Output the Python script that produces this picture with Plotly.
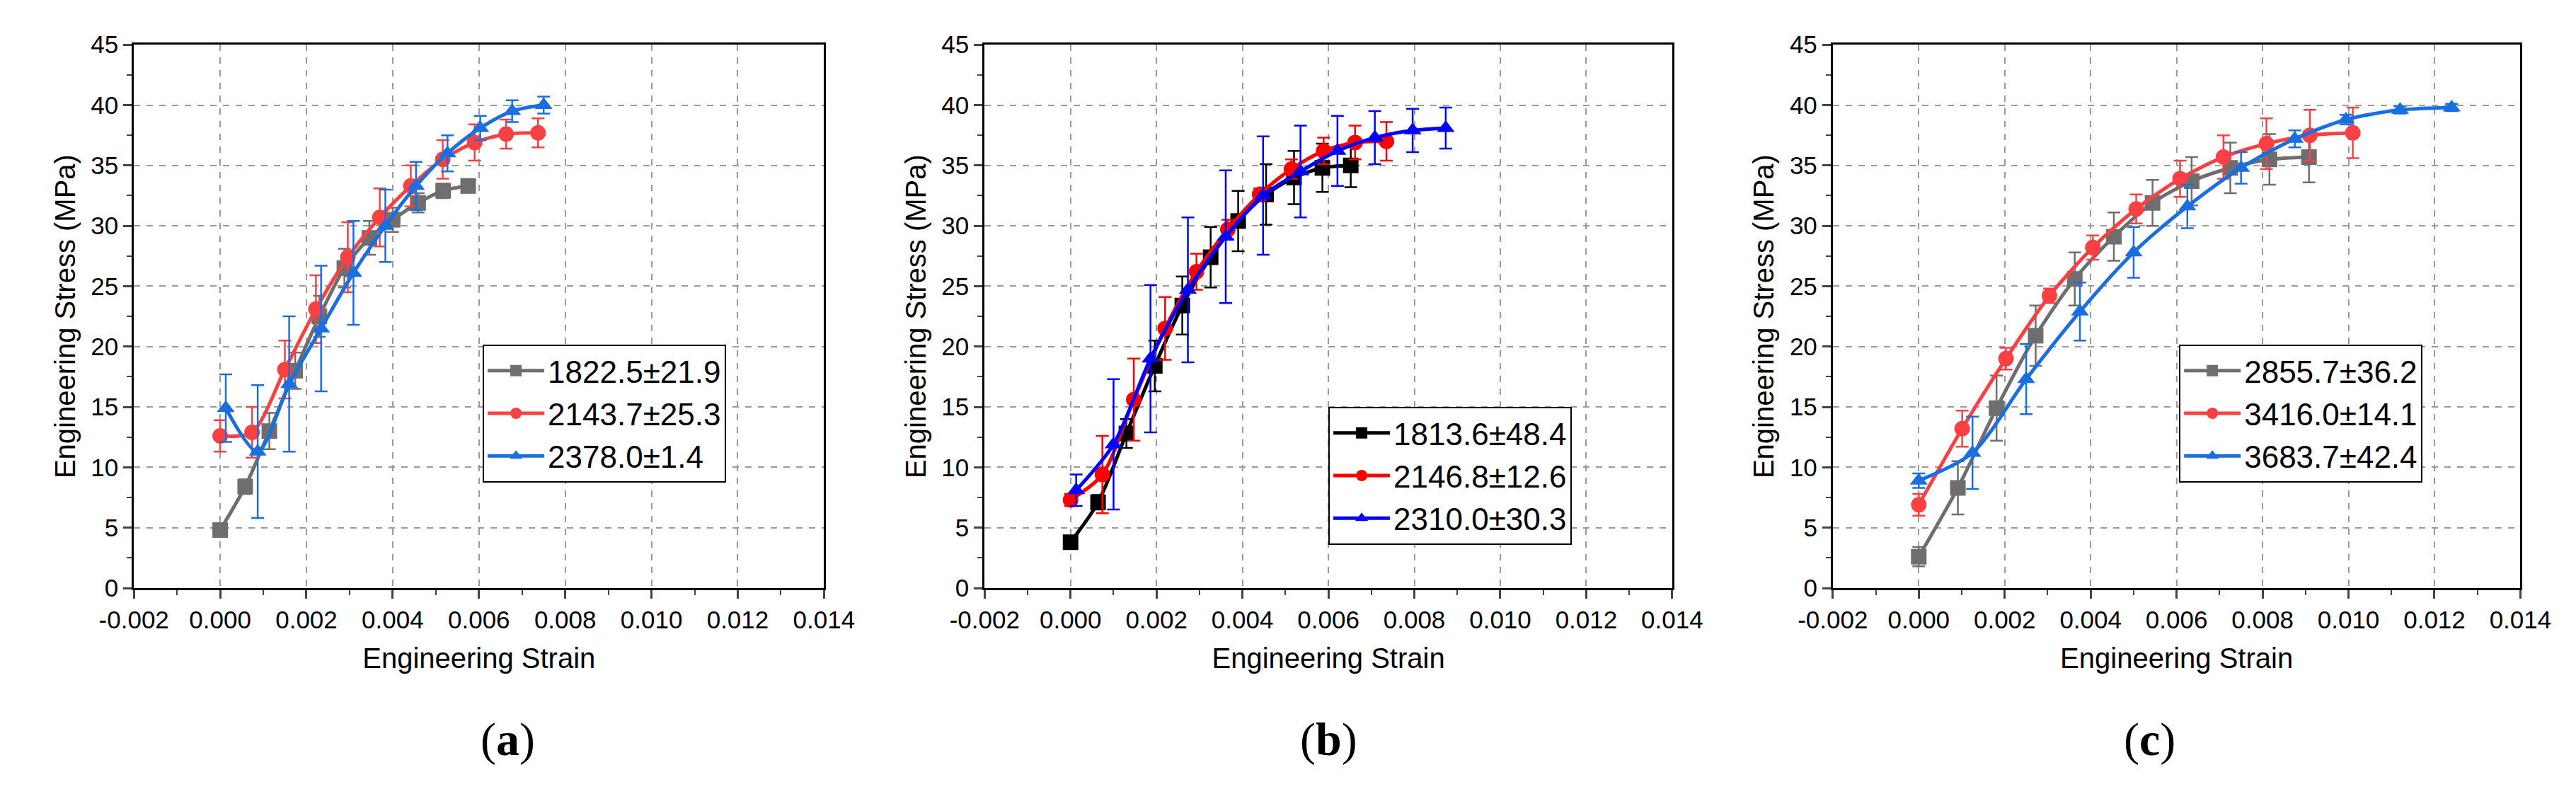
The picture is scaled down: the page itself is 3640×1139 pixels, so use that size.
import plotly.graph_objects as go

# ---------------- data ----------------
# panel (a)
a_gray_x = [0, 0.00058, 0.00114, 0.00174, 0.0023, 0.00288, 0.00346, 0.0040, 0.00459, 0.00517, 0.00575]
a_gray_y = [4.8, 8.4, 13.0, 18.0, 22.5, 26.5, 29.0, 30.5, 31.9, 32.9, 33.3]
a_gray_e = [0.3, 0.6, 1.5, 1.5, 1.7, 1.6, 1.4, 1.0, 0.8, 0.6, 0.5]
a_red_x = [0, 0.00074, 0.0015, 0.00222, 0.00296, 0.0037, 0.00442, 0.00516, 0.0059, 0.00663, 0.00737]
a_red_y = [12.6, 12.9, 18.1, 23.1, 27.4, 30.7, 33.3, 35.5, 36.9, 37.6, 37.7]
a_red_e = [1.3, 2.1, 2.4, 2.8, 2.9, 2.4, 1.7, 1.6, 1.5, 1.2, 1.2]
a_blue_x = [0.00013, 0.00087, 0.0016, 0.00234, 0.00309, 0.00383, 0.00454, 0.00527, 0.00603, 0.00677, 0.0075]
a_blue_y = [14.9, 11.3, 16.9, 21.5, 26.1, 30.0, 33.3, 36.0, 38.1, 39.5, 40.0]
a_blue_e = [2.8, 5.5, 5.6, 5.2, 4.3, 3.0, 2.0, 1.5, 1.0, 0.9, 0.7]
a_names = ["1822.5±21.9", "2143.7±25.3", "2378.0±1.4"]

# panel (b)
b_black_x = [0, 0.00064, 0.0013, 0.00196, 0.0026, 0.00326, 0.0039, 0.00455, 0.0052, 0.00586, 0.00652]
b_black_y = [3.8, 7.1, 12.8, 18.4, 23.4, 27.4, 30.4, 32.6, 34.0, 34.8, 35.0]
b_black_e = [0.3, 0.6, 1.2, 2.1, 2.4, 2.5, 2.5, 2.5, 2.2, 2.0, 1.8]
b_red_x = [0, 0.00074, 0.00147, 0.0022, 0.00293, 0.00366, 0.0044, 0.00514, 0.00589, 0.00662, 0.00735]
b_red_y = [7.3, 9.4, 15.6, 21.5, 26.2, 29.7, 32.6, 34.7, 36.2, 36.9, 37.0]
b_red_e = [0.5, 3.2, 3.4, 2.6, 1.5, 0.8, 0.5, 0.8, 1.1, 1.4, 1.6]
b_blue_x = [0.00013, 0.001, 0.00186, 0.00273, 0.00361, 0.00448, 0.00535, 0.00621, 0.00708, 0.00796, 0.00873]
b_blue_y = [8.1, 11.9, 19.0, 24.7, 29.1, 32.5, 34.5, 36.2, 37.3, 37.9, 38.1]
b_blue_e = [1.3, 5.4, 6.1, 6.0, 5.5, 4.9, 3.8, 2.9, 2.2, 1.8, 1.7]
b_names = ["1813.6±48.4", "2146.8±12.6", "2310.0±30.3"]

# panel (c)
c_gray_x = [0, 0.00091, 0.00181, 0.00272, 0.00363, 0.00454, 0.00544, 0.00635, 0.00725, 0.00816, 0.00908]
c_gray_y = [2.6, 8.3, 14.9, 20.9, 25.6, 29.1, 31.9, 33.7, 34.8, 35.5, 35.7]
c_gray_e = [0.8, 2.2, 2.7, 2.5, 2.2, 2.0, 1.9, 2.0, 2.1, 2.1, 2.1]
c_red_x = [0, 0.00101, 0.00203, 0.00304, 0.00405, 0.00506, 0.00608, 0.00709, 0.00809, 0.0091, 0.0101]
c_red_y = [6.9, 13.2, 19.0, 24.2, 28.2, 31.4, 33.9, 35.7, 36.8, 37.5, 37.7]
c_red_e = [0.9, 1.5, 0.9, 0.6, 1.0, 1.2, 1.5, 1.8, 2.1, 2.1, 2.1]
c_blue_x = [0, 0.00125, 0.0025, 0.00375, 0.005, 0.00625, 0.0075, 0.00875, 0.00994, 0.0112, 0.0124]
c_blue_y = [8.9, 11.2, 17.3, 22.9, 27.8, 31.6, 34.8, 37.2, 38.8, 39.6, 39.8]
c_blue_e = [0.6, 3.0, 2.9, 2.4, 2.1, 1.8, 1.3, 0.7, 0.4, 0.3, 0.3]
c_names = ["2855.7±36.2", "3416.0±14.1", "3683.7±42.4"]

x_ticks = [-0.002, 0.0, 0.002, 0.004, 0.006, 0.008, 0.010, 0.012, 0.014]
x_tick_text = ["-0.002", "0.000", "0.002", "0.004", "0.006", "0.008", "0.010", "0.012", "0.014"]
panel_labels = ["a", "b", "c"]

# ---------------- figure ----------------
GRAY, RED, BLUE = "#6e6e6e", "#f94144", "#1a6fe0"
domains = [(0.037, 0.312), (0.376, 0.650), (0.714, 0.988)]
ydom = (0.27, 0.968)
legend_pos = [(0.176, 0.583), (0.513, 0.503), (0.852, 0.583)]

panels = [
    [(a_gray_x, a_gray_y, a_gray_e, GRAY, "square"), (a_red_x, a_red_y, a_red_e, RED, "circle"),
     (a_blue_x, a_blue_y, a_blue_e, BLUE, "triangle-up"), a_names],
    [(b_black_x, b_black_y, b_black_e, "#000000", "square"), (b_red_x, b_red_y, b_red_e, "#ff0000", "circle"),
     (b_blue_x, b_blue_y, b_blue_e, "#0000ff", "triangle-up"), b_names],
    [(c_gray_x, c_gray_y, c_gray_e, GRAY, "square"), (c_red_x, c_red_y, c_red_e, RED, "circle"),
     (c_blue_x, c_blue_y, c_blue_e, BLUE, "triangle-up"), c_names],
]

fig = go.Figure()
FONT = "Liberation Sans, Arial, sans-serif"
for i, p in enumerate(panels):
    sfx = "" if i == 0 else str(i + 1)
    lg = "legend" if i == 0 else "legend" + str(i + 1)
    names = p[3]
    for (xs, ys, es, col, sym), nm in zip(p[:3], names):
        fig.add_trace(go.Scatter(
            x=xs, y=ys, name=nm, mode="lines+markers",
            line=dict(color=col, width=5, shape="spline", smoothing=0.8),
            marker=dict(color=col, symbol=sym, size=22),
            error_y=dict(type="data", array=es, color=col, thickness=2.5, width=9),
            xaxis="x" + sfx, yaxis="y" + sfx, legend=lg))
    ax = dict(domain=list(domains[i]), range=[-0.002, 0.014], tickvals=x_ticks, ticktext=x_tick_text,
              ticks="outside", ticklen=12, tickwidth=3, showline=True, linewidth=3, linecolor="black",
              mirror=True, showgrid=True, gridcolor="#9a9a9a", griddash="dash", gridwidth=1.5,
              zeroline=False,
              title=dict(text="Engineering Strain", font=dict(size=40, family=FONT, color="black"), standoff=22),
              tickfont=dict(size=35, family=FONT, color="black"),
              minor=dict(dtick=0.001, tick0=0, ticks="outside", ticklen=7, tickwidth=2, showgrid=False),
              anchor="y" + sfx)
    ay = dict(domain=list(ydom), range=[0, 45], dtick=5, ticks="outside", ticklen=12, tickwidth=3,
              showline=True, linewidth=3, linecolor="black", mirror=True, showgrid=True,
              gridcolor="#9a9a9a", griddash="dash", gridwidth=1.5, zeroline=False,
              title=dict(text="Engineering Stress (MPa)", font=dict(size=40, family=FONT, color="black"), standoff=10),
              tickfont=dict(size=35, family=FONT, color="black"),
              minor=dict(dtick=2.5, ticks="outside", ticklen=7, tickwidth=2, showgrid=False),
              anchor="x" + sfx)
    fig.layout["xaxis" + sfx] = ax
    fig.layout["yaxis" + sfx] = ay
    fig.layout[lg] = dict(x=legend_pos[i][0], y=legend_pos[i][1], xanchor="left", yanchor="top",
                          bgcolor="white", bordercolor="black", borderwidth=2,
                          font=dict(size=44, family=FONT, color="black"), tracegroupgap=0,
                          itemwidth=80)
    cx = (domains[i][0] + domains[i][1]) / 2
    fig.add_annotation(x=cx, y=0.04, xref="paper", yref="paper", showarrow=False,
                       text="(<b>" + panel_labels[i] + "</b>)",
                       font=dict(size=66, family="Liberation Serif, Times New Roman, serif", color="black"))

fig.update_layout(width=3640, height=1139, plot_bgcolor="white", paper_bgcolor="white",
                  margin=dict(l=0, r=0, t=0, b=0), showlegend=True)
fig.write_html("out.html")
